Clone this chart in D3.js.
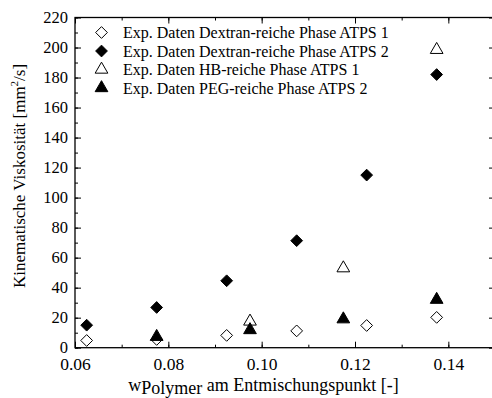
<!DOCTYPE html>
<html>
<head>
<meta charset="utf-8">
<script src="https://cdn.jsdelivr.net/npm/d3@7/dist/d3.min.js"></script>
<style>
  html, body { margin: 0; padding: 0; background: #fff; }
  svg { display: block; }
</style>
</head>
<body>
<svg id="chart" width="492" height="398"></svg>
<script>
// Series data: polymer mass fraction at the demixing point vs. kinematic viscosity
const seriesNames = [
  "Exp. Daten Dextran-reiche Phase ATPS 1",
  "Exp. Daten Dextran-reiche Phase ATPS 2",
  "Exp. Daten HB-reiche Phase ATPS 1",
  "Exp. Daten PEG-reiche Phase ATPS 2"
];
const dextran1X = [0.0625, 0.0775, 0.0925, 0.1075, 0.1225, 0.1375];
const dextran1Y = [4.8, 5.5, 8.2, 11.2, 14.8, 20.2];
const dextran2X = [0.0625, 0.0775, 0.0925, 0.1075, 0.1225, 0.1375];
const dextran2Y = [15.0, 26.8, 44.6, 71.3, 115.0, 182.0];
const hb1X = [0.0975, 0.1175, 0.1375];
const hb1Y = [17.5, 53.0, 198.5];
const peg2X = [0.0775, 0.0975, 0.1175, 0.1375];
const peg2Y = [7.3, 11.8, 19.0, 32.0];

const xTicks = [0.06, 0.08, 0.10, 0.12, 0.14];
const xMinorTicks = [0.06, 0.07, 0.08, 0.09, 0.10, 0.11, 0.12, 0.13, 0.14, 0.15];
const yTicks = [0, 20, 40, 60, 80, 100, 120, 140, 160, 180, 200, 220];
const yMinorTicks = d3.range(0, 221, 10);

const FONT = "Liberation Serif, Times New Roman, serif";
const svg = d3.select("#chart");
const L = 75, T = 17.5, R = 495, B = 347.7;

const x = d3.scaleLinear().domain([0.06, 0.15]).range([L, R]);
const y = d3.scaleLinear().domain([0, 220]).range([B, T]);

// Frame
svg.append("rect")
  .attr("x", L).attr("y", T)
  .attr("width", R - L).attr("height", B - T)
  .attr("fill", "none").attr("stroke", "#000").attr("stroke-width", 1.3);

// Inward ticks on all four sides
function ticks(axisGen, transform, size) {
  const g = svg.append("g").attr("transform", transform).call(axisGen.tickSize(size).tickFormat(""));
  g.select(".domain").remove();
  g.selectAll(".tick line").attr("stroke", "#000").attr("stroke-width", 1);
  return g;
}
ticks(d3.axisTop(x).tickValues(xMinorTicks), `translate(0,${B})`, 3);
ticks(d3.axisTop(x).tickValues(xTicks), `translate(0,${B})`, 6);
ticks(d3.axisBottom(x).tickValues(xMinorTicks), `translate(0,${T})`, 3);
ticks(d3.axisBottom(x).tickValues(xTicks), `translate(0,${T})`, 6);
ticks(d3.axisRight(y).tickValues(yMinorTicks), `translate(${L},0)`, 3);
ticks(d3.axisRight(y).tickValues(yTicks), `translate(${L},0)`, 6);
ticks(d3.axisLeft(y).tickValues(yMinorTicks), `translate(${R},0)`, 3);
ticks(d3.axisLeft(y).tickValues(yTicks), `translate(${R},0)`, 6);

// Tick labels
const xl = svg.append("g").attr("transform", `translate(0,${B})`)
  .call(d3.axisBottom(x).tickValues(xTicks).tickSize(0).tickPadding(9.5).tickFormat(d3.format(".2f")));
xl.select(".domain").remove();
xl.selectAll("text").style("font-family", FONT).style("font-size", "17.5px").attr("fill", "#000");

const yl = svg.append("g").attr("transform", `translate(${L},0)`)
  .call(d3.axisLeft(y).tickValues(yTicks).tickSize(0).tickPadding(7).tickFormat(d3.format("d")));
yl.select(".domain").remove();
yl.selectAll("text").style("font-family", FONT).style("font-size", "16.5px").attr("fill", "#000");

// Axis titles
const xt = svg.append("text")
  .attr("x", 263.5).attr("y", 391)
  .attr("text-anchor", "middle")
  .style("font-family", FONT).style("font-size", "18px").attr("fill", "#000");
xt.append("tspan").text("w");
xt.append("tspan").attr("dy", 3).text("Polymer");
xt.append("tspan").attr("dy", -3).text(" am Entmischungspunkt [-]");

const yt = svg.append("text")
  .attr("transform", "translate(25,176) rotate(-90)")
  .attr("text-anchor", "middle")
  .style("font-family", FONT).style("font-size", "17px").attr("fill", "#000");
yt.append("tspan").text("Kinematische Viskosität [mm");
yt.append("tspan").attr("dy", -7).style("font-size", "11px").text("2");
yt.append("tspan").attr("dy", 7).text("/s]");

// Marker shapes
const diamond = d3.symbol().type(d3.symbolDiamond2).size(88)();
const triangle = d3.symbol().type(d3.symbolTriangle).size(70)();

const series = [
  { xs: dextran1X, ys: dextran1Y, path: diamond, filled: false },
  { xs: dextran2X, ys: dextran2Y, path: diamond, filled: true },
  { xs: hb1X, ys: hb1Y, path: triangle, filled: false },
  { xs: peg2X, ys: peg2Y, path: triangle, filled: true }
];

function drawMarker(g, s, cx, cy) {
  g.append("path")
    .attr("d", s.path)
    .attr("transform", `translate(${cx},${cy})`)
    .attr("fill", s.filled ? "#000" : "#fff")
    .attr("stroke", "#000")
    .attr("stroke-width", 1);
}

const marks = svg.append("g");
series.forEach(s => {
  s.xs.forEach((xv, i) => drawMarker(marks, s, x(xv), y(s.ys[i])));
});

// Legend
const legend = svg.append("g");
seriesNames.forEach((name, i) => {
  const cy = 32.5 + i * 18.5;
  drawMarker(legend, series[i], 101.5, cy);
  legend.append("text")
    .attr("x", 123).attr("y", cy + 5.5)
    .style("font-family", FONT).style("font-size", "16px").attr("fill", "#000")
    .text(name);
});
</script>
</body>
</html>
